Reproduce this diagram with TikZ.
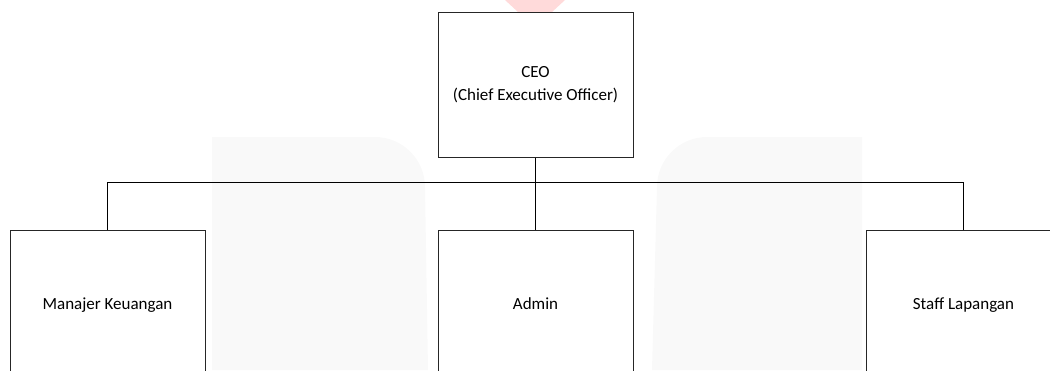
\documentclass[tikz,border=0pt]{standalone}
\usepackage{fontspec}
\setmainfont{Carlito}
\usepackage{tikz}
\usetikzlibrary{positioning}

\definecolor{wmgray}{HTML}{F9F9F9}
\definecolor{wmpink}{HTML}{FFDADA}

\begin{document}
\begin{tikzpicture}[x=1pt, y=1pt,
      level distance=218pt, sibling distance=428pt,
      every node/.style = {shape=rectangle, draw=black!85, line width=1pt,
        align=center, fill=white,
        minimum width=195pt, minimum height=145pt,
        font=\fontsize{17}{23}\selectfont},
      every child node/.style = {text height=14pt, text depth=1pt},
      edge from parent/.style = {draw, line width=1pt},
      edge from parent path = {(\tikzparentnode.south) -- ++(0,-25)
        -| (\tikzchildnode.north)}]
      \path[clip] (0,-370) rectangle (1050,0);
      % faint marks in the page background
      \fill[wmgray] (212,-370) |- (375,-137)
        arc[start angle=90, end angle=0, radius=50] -- (428,-370) -- cycle;
      \fill[wmgray] (862,-370) |- (707,-137)
        arc[start angle=90, end angle=180, radius=50] -- (652,-370) -- cycle;
      \fill[wmpink] (505,0) -- (565,0) -- (552,-12) -- (518,-12) -- cycle;
      % the chart
      \node (ceo) at (535.5,-84.5) {CEO\\(Chief Executive Officer)}
        child { node (keuangan) {Manajer Keuangan} }
        child { node (admin) {Admin} }
        child { node (lapangan) {Staff Lapangan} };
    \end{tikzpicture}
\end{document}
